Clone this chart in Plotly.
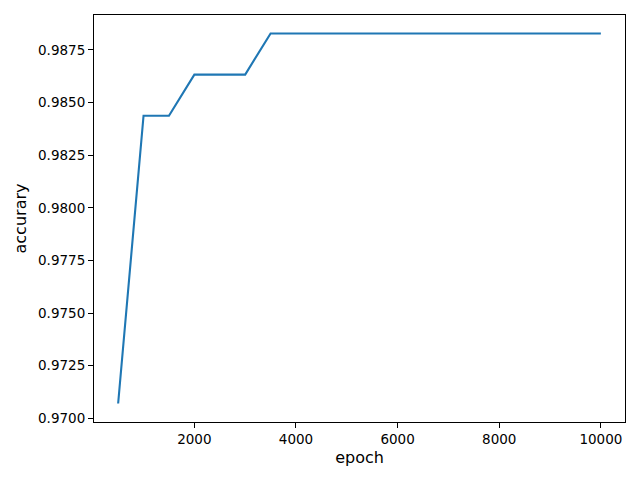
import plotly.graph_objects as go

epochs = [500, 1000, 1500, 2000, 2500, 3000, 3500, 4000, 4500, 5000, 5500, 6000,
          6500, 7000, 7500, 8000, 8500, 9000, 9500, 10000]
accuracy = [497/512, 504/512, 504/512, 505/512, 505/512, 505/512] + [506/512] * 14

x_ticks = [2000, 4000, 6000, 8000, 10000]
y_ticks = [0.9700, 0.9725, 0.9750, 0.9775, 0.9800, 0.9825, 0.9850, 0.9875]

fig = go.Figure()
fig.add_trace(go.Scatter(x=epochs, y=accuracy, mode="lines",
                         line=dict(color="#1f77b4", width=2.1), showlegend=False))

xmin, xmax = min(epochs), max(epochs)
xm = (xmax - xmin) * 0.05
ymin, ymax = min(accuracy), max(accuracy)
ym = (ymax - ymin) * 0.05

axis_common = dict(showline=True, linecolor="black", linewidth=1.1, mirror=True,
                   ticks="outside", ticklen=5, tickwidth=1.1, tickcolor="black",
                   showgrid=False, zeroline=False,
                   tickfont=dict(family="DejaVu Sans", size=13.5, color="black"))

fig.update_layout(
    width=640, height=480,
    margin=dict(l=94, r=15, t=15, b=58),
    plot_bgcolor="white", paper_bgcolor="white",
    font=dict(family="DejaVu Sans", size=13.5, color="black"),
    xaxis=dict(range=[xmin - xm, xmax + xm], tickvals=x_ticks,
               ticktext=[str(v) for v in x_ticks],
               title=dict(text="epoch", standoff=5), **axis_common),
    yaxis=dict(range=[ymin - ym, ymax + ym], tickvals=y_ticks,
               ticktext=[f"{v:.4f}" for v in y_ticks],
               title=dict(text="accurary", standoff=7), **axis_common),
)

fig.write_html("out.html", config={"displayModeBar": False},
               post_script="document.body.style.margin='0';document.body.style.overflow='hidden';")
